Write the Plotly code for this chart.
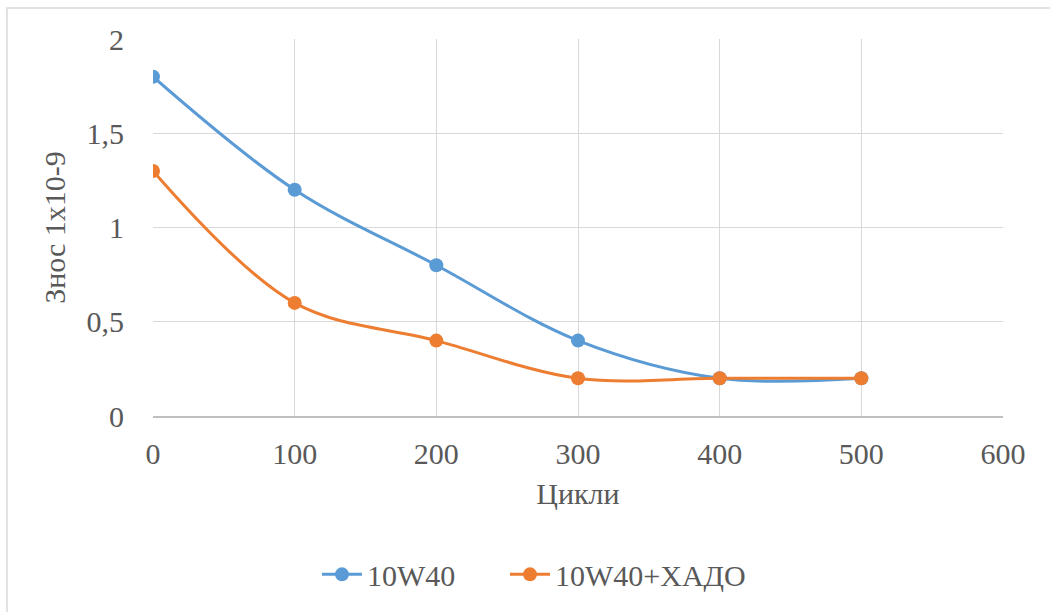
import plotly.graph_objects as go

cycles = [0, 100, 200, 300, 400, 500]
wear_10w40 = [1.8, 1.2, 0.8, 0.4, 0.2, 0.2]
wear_10w40_xado = [1.3, 0.6, 0.4, 0.2, 0.2, 0.2]
series_names = ["10W40", "10W40+ХАДО"]
x_ticks = [0, 100, 200, 300, 400, 500, 600]
y_ticks = [0, 0.5, 1, 1.5, 2]
y_tick_text = ["0", "0,5", "1", "1,5", "2"]

FONT = "Liberation Serif, Times New Roman, serif"
TXT = "#595959"
GRID = "#D9D9D9"

fig = go.Figure()
for name, vals, col, lg in [(series_names[0], wear_10w40, "#5B9BD5", "legend"),
                            (series_names[1], wear_10w40_xado, "#ED7D31", "legend2")]:
    fig.add_trace(go.Scatter(
        x=cycles, y=vals, name=name, mode="lines+markers", legend=lg,
        line=dict(color=col, width=3, shape="spline", smoothing=1),
        marker=dict(color=col, size=14),
    ))

leg_common = dict(orientation="h", xanchor="left", y=-0.42, yanchor="middle",
                  font=dict(family=FONT, size=30, color=TXT), itemwidth=40,
                  bgcolor="rgba(0,0,0,0)")

fig.update_layout(
    width=1050, height=612,
    margin=dict(l=153, r=47, t=39, b=196),
    paper_bgcolor="white", plot_bgcolor="white",
    font=dict(family=FONT, size=30, color=TXT),
    showlegend=True,
    legend=dict(x=0.1929, **leg_common),
    legend2=dict(x=0.4141, **leg_common),
    xaxis=dict(range=[0, 600], tickvals=x_ticks, showgrid=True, gridcolor=GRID, gridwidth=1.3,
               zeroline=False, showline=True, linecolor="#BFBFBF", linewidth=1.5,
               ticks="outside", ticklen=10, tickcolor="rgba(0,0,0,0)",
               title=dict(text="Цикли", standoff=14, font=dict(family=FONT, size=30, color=TXT))),
    yaxis=dict(range=[0, 2], tickvals=y_ticks, ticktext=y_tick_text, showgrid=True,
               gridcolor=GRID, gridwidth=1.3, zeroline=False, showline=False,
               ticks="outside", ticklen=22, tickcolor="rgba(0,0,0,0)",
               title=dict(text="Знос 1x10-9", standoff=12, font=dict(family=FONT, size=30, color=TXT))),
    shapes=[dict(type="rect", xref="paper", yref="paper",
                 x0=-0.1718, x1=2.0, y0=-2.0, y1=1.0822,
                 line=dict(color=GRID, width=1.5), layer="below")],
)

fig.write_html("out.html")
